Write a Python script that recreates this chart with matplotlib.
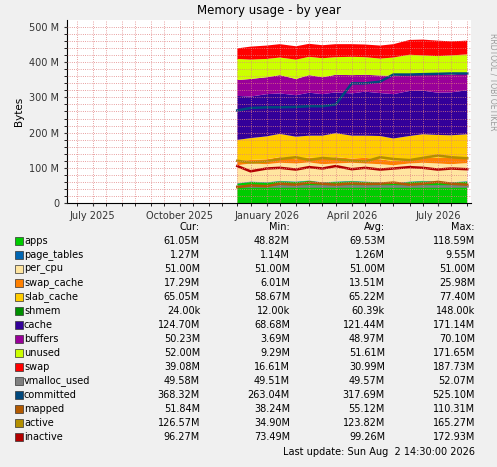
import numpy as np
import matplotlib
matplotlib.use("Agg")
from matplotlib import pyplot as plt
import matplotlib.dates as mdates
from matplotlib.patches import Rectangle
import datetime as dt

dates = ["2025-12-01", "2025-12-15", "2026-01-01", "2026-01-15", "2026-02-01", "2026-02-15",
         "2026-03-01", "2026-03-15", "2026-04-01", "2026-04-15", "2026-05-01", "2026-05-15",
         "2026-06-01", "2026-06-15", "2026-07-01", "2026-07-15", "2026-08-01"]

# stacked areas (MB)
apps = [55, 60, 58, 62, 60, 63, 58, 60, 62, 60, 58, 55, 60, 62, 60, 58, 61]
page_tables = [1.3] * 17
per_cpu = [51] * 17
swap_cache = [12, 10, 14, 16, 12, 14, 15, 18, 12, 16, 14, 12, 10, 15, 16, 18, 17]
slab_cache = [60, 62, 65, 66, 64, 62, 66, 68, 65, 63, 66, 64, 68, 66, 65, 64, 65]
shmem = [0.05] * 17
cache = [125, 118, 120, 115, 118, 122, 118, 116, 120, 125, 122, 126, 128, 124, 120, 122, 125]
buffers = [45, 50, 48, 52, 46, 50, 48, 50, 52, 48, 50, 52, 48, 50, 52, 50, 50]
unused = [60, 55, 52, 50, 55, 52, 54, 50, 52, 50, 48, 52, 55, 50, 52, 55, 52]
swap = [30, 37, 38, 38, 38, 37, 37, 37, 36, 36, 37, 38, 42, 45, 44, 40, 39]

# lines (MB)
vmalloc_used = [49.6] * 17
committed = [263, 270, 272, 272, 273, 275, 275, 280, 340, 340, 345, 365, 365, 366, 367, 368, 368]
mapped = [45, 50, 48, 55, 52, 58, 55, 52, 56, 54, 55, 58, 52, 55, 60, 55, 52]
active = [120, 115, 118, 125, 130, 122, 128, 125, 120, 118, 130, 125, 122, 128, 135, 130, 127]
inactive = [105, 90, 98, 100, 95, 102, 98, 105, 96, 100, 95, 98, 102, 100, 95, 98, 96]

names = ["apps", "page_tables", "per_cpu", "swap_cache", "slab_cache", "shmem", "cache",
         "buffers", "unused", "swap", "vmalloc_used", "committed", "mapped", "active", "inactive"]
colors = ["#00CC00", "#0066B3", "#FFE5A0", "#FF8000", "#FFCC00", "#008F00", "#330099",
          "#990099", "#CCFF00", "#FF0000", "#808080", "#00487D", "#B35A00", "#B38F00", "#B30000"]
cur = ["61.05M", "1.27M", "51.00M", "17.29M", "65.05M", "24.00k", "124.70M", "50.23M", "52.00M",
       "39.08M", "49.58M", "368.32M", "51.84M", "126.57M", "96.27M"]
mins = ["48.82M", "1.14M", "51.00M", "6.01M", "58.67M", "12.00k", "68.68M", "3.69M", "9.29M",
        "16.61M", "49.51M", "263.04M", "38.24M", "34.90M", "73.49M"]
avgs = ["69.53M", "1.26M", "51.00M", "13.51M", "65.22M", "60.39k", "121.44M", "48.97M", "51.61M",
        "30.99M", "49.57M", "317.69M", "55.12M", "123.82M", "99.26M"]
maxs = ["118.59M", "9.55M", "51.00M", "25.98M", "77.40M", "148.00k", "171.14M", "70.10M", "171.65M",
        "187.73M", "52.07M", "525.10M", "110.31M", "165.27M", "172.93M"]

x = [dt.datetime.strptime(d, "%Y-%m-%d") for d in dates]
stack = [apps, page_tables, per_cpu, swap_cache, slab_cache, shmem, cache, buffers, unused, swap]
lines = [vmalloc_used, committed, mapped, active, inactive]

fig = plt.figure(figsize=(4.97, 4.67), dpi=100, facecolor="#F0F0F0")
ax = fig.add_axes([67/497, 1-203/467, 404/497, 183/467])
ax.set_facecolor("white")
ax.stackplot(x, *[np.array(s) * 1e6 for s in stack], colors=colors[:10], linewidth=0)
for s, c in zip(lines, colors[10:]):
    ax.plot(x, np.array(s) * 1e6, color=c, lw=1.8)

ax.set_xlim(dt.datetime(2025, 6, 4), dt.datetime(2026, 8, 5))
ax.set_ylim(0, 520e6)
ax.set_yticks(np.arange(0, 501e6, 100e6))
ax.set_yticklabels(["0"] + ["%d M" % v for v in range(100, 501, 100)])
ax.set_yticks(np.arange(0, 520e6, 20e6), minor=True)
ax.xaxis.set_major_locator(mdates.MonthLocator(bymonth=[1, 4, 7, 10]))
ax.xaxis.set_minor_locator(mdates.MonthLocator(bymonthday=[1, 15]))
ax.set_xticks([dt.datetime(2025, 7, 1), dt.datetime(2025, 10, 1), dt.datetime(2026, 1, 1),
               dt.datetime(2026, 4, 1), dt.datetime(2026, 7, 1)])
ax.set_xticklabels(["July 2025", "October 2025", "January 2026", "April 2026", "July 2026"])
ax.grid(which="both", color="#E08080", ls=":", lw=0.6)
ax.set_axisbelow(False)
ax.tick_params(labelsize=7, length=2, colors="#333333")
for sp in ["top", "right"]:
    ax.spines[sp].set_visible(False)
ax.set_ylabel("Bytes", fontsize=7.5)
ax.set_title("Memory usage - by year", fontsize=8.5, pad=4)
fig.text(0.982, 0.93, "RRDTOOL / TOBI OETIKER", rotation=270, fontsize=5.5, color="#999999", va="top")

fs = 7
fig.text(200/497, 1-227/467, "Cur:", ha="right", fontsize=fs, va="center")
fig.text(290/497, 1-227/467, "Min:", ha="right", fontsize=fs, va="center")
fig.text(385/497, 1-227/467, "Avg:", ha="right", fontsize=fs, va="center")
fig.text(475/497, 1-227/467, "Max:", ha="right", fontsize=fs, va="center")
for i, n in enumerate(names):
    yp = 1 - (241 + i * 14) / 467
    fig.patches.append(Rectangle((15/497, yp - 4/467), 8/497, 8/467, transform=fig.transFigure,
                                 facecolor=colors[i], edgecolor="#333333", lw=0.5))
    fig.text(24/497, yp, n, fontsize=fs, va="center")
    fig.text(200/497, yp, cur[i], ha="right", fontsize=fs, va="center")
    fig.text(290/497, yp, mins[i], ha="right", fontsize=fs, va="center")
    fig.text(385/497, yp, avgs[i], ha="right", fontsize=fs, va="center")
    fig.text(475/497, yp, maxs[i], ha="right", fontsize=fs, va="center")
fig.text(475/497, 1-452/467, "Last update: Sun Aug  2 14:30:00 2026", ha="right", fontsize=fs, va="center")

fig.savefig("out.png", dpi=100, facecolor=fig.get_facecolor())
